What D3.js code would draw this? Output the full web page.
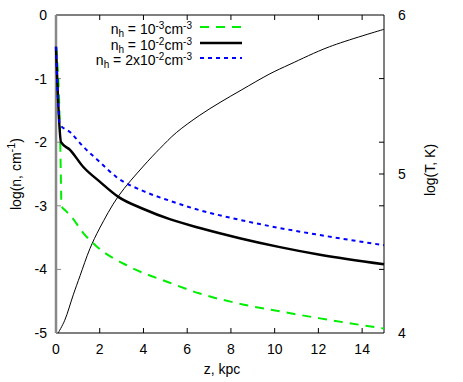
<!DOCTYPE html>
<html>
<head>
<meta charset="utf-8">
<script src="https://cdn.jsdelivr.net/npm/d3@7"></script>
<style>
	body { margin: 0; background: #fff; }
	text { font-family: "Liberation Sans", Arial, sans-serif; font-size: 14px; fill: #000; }
</style>
</head>
<body>
<div id="chart"></div>
<script>
// density curves, log(n, cm^-1) vs z (kpc)
const zLow = [0, 0.18, 0.22, 0.25, 0.45, 0.7, 1.25, 1.86, 3.38, 5.2, 6.58, 8.4, 10.24, 12.07, 15];
const nLow = [-0.5, -1.8, -2.5, -3.0, -3.08, -3.17, -3.43, -3.64, -3.96, -4.21, -4.38, -4.54, -4.66, -4.77, -4.93];

const zMid = [0, 0.23, 0.64, 1.25, 2.0, 2.85, 4.0, 5.2, 6.58, 8.4, 10.24, 12.07, 15];
const nMid = [-0.5, -2.0, -2.12, -2.39, -2.62, -2.86, -3.05, -3.21, -3.35, -3.51, -3.65, -3.77, -3.92];

const zHigh = [0, 0.18, 0.64, 1.25, 2.0, 2.77, 4.0, 5.2, 6.58, 8.4, 10.24, 12.07, 15];
const nHigh = [-0.5, -1.72, -1.84, -2.07, -2.31, -2.55, -2.77, -2.92, -3.07, -3.22, -3.35, -3.46, -3.62];

// temperature, log(T, K), right axis
const zT = [0.1, 0.4, 0.79, 1.1, 1.55, 2.0, 2.85, 4.0, 4.75, 5.5, 6.58, 7.5, 8.5, 9.78, 10.7, 12.5, 15];
const logT = [4.0, 4.08, 4.24, 4.36, 4.53, 4.66, 4.86, 5.05, 5.16, 5.26, 5.37, 5.45, 5.53, 5.63, 5.69, 5.8, 5.91];

const xTicks = [0, 2, 4, 6, 8, 10, 12, 14];
const yTicks = [0, -1, -2, -3, -4, -5];
const y2Ticks = [4, 5, 6];

const width = 463, height = 382;
const pLeft = 56, pRight = 384, pTop = 15, pBottom = 333;

const svg = d3.select('#chart')
	.append('svg')
	.attr('width', width)
	.attr('height', height);

const x = d3.scaleLinear().domain([0, 15]).range([pLeft, pRight]);
const y = d3.scaleLinear().domain([-5, 0]).range([pBottom, pTop]);
const y2 = d3.scaleLinear().domain([4, 6]).range([pBottom, pTop]);

const tl = 5;

// frame (left side drawn grey below)
svg.append('path')
	.attr('d', `M${pLeft},${pTop}H${pRight}V${pBottom}H${pLeft}`)
	.attr('fill', 'none')
	.attr('stroke', '#000')
	.attr('stroke-width', 1);

// x ticks bottom + top
xTicks.forEach((t) => {
	if (t === 0) return;
	svg.append('line')
		.attr('x1', x(t)).attr('x2', x(t))
		.attr('y1', pBottom).attr('y2', pBottom - tl)
		.attr('stroke', '#000');
	svg.append('line')
		.attr('x1', x(t)).attr('x2', x(t))
		.attr('y1', pTop).attr('y2', pTop + tl)
		.attr('stroke', '#000');
});
xTicks.forEach((t) => {
	svg.append('text')
		.attr('x', x(t))
		.attr('y', pBottom + 21)
		.attr('text-anchor', 'middle')
		.text(t);
});

// y ticks left + mirrored right
yTicks.forEach((t) => {
	if (t !== 0 && t !== -5) {
		svg.append('line')
			.attr('x1', pLeft).attr('x2', pLeft + tl)
			.attr('y1', y(t)).attr('y2', y(t))
			.attr('stroke', '#888');
		svg.append('line')
			.attr('x1', pRight).attr('x2', pRight - tl)
			.attr('y1', y(t)).attr('y2', y(t))
			.attr('stroke', '#000');
	}
	svg.append('text')
		.attr('x', pLeft - 9)
		.attr('y', y(t))
		.attr('dy', '0.35em')
		.attr('text-anchor', 'end')
		.text(t);
});

y2Ticks.forEach((t) => {
	if (t === 5) {
		svg.append('line')
			.attr('x1', pRight).attr('x2', pRight - tl)
			.attr('y1', y2(t)).attr('y2', y2(t))
			.attr('stroke', '#000');
	}
	svg.append('text')
		.attr('x', pRight + 14)
		.attr('y', y2(t))
		.attr('dy', '0.35em')
		.text(t);
});

// grey left axis line
svg.append('line')
	.attr('x1', pLeft).attr('x2', pLeft)
	.attr('y1', pTop).attr('y2', pBottom)
	.attr('stroke', '#888')
	.attr('stroke-width', 2.5);

// axis titles
svg.append('text')
	.attr('x', (pLeft + pRight) / 2 + 2)
	.attr('y', 374)
	.attr('text-anchor', 'middle')
	.text('z, kpc');

const yl = svg.append('text')
	.attr('transform', `translate(21,${(pTop + pBottom) / 2}) rotate(-90)`)
	.attr('text-anchor', 'middle');
yl.append('tspan').text('log(n, cm');
yl.append('tspan').attr('dy', -6).attr('font-size', 11).text('-1');
yl.append('tspan').attr('dy', 6).text(')');

svg.append('text')
	.attr('transform', `translate(435,${(pTop + pBottom) / 2 - 4}) rotate(-90)`)
	.attr('text-anchor', 'middle')
	.text('log(T, K)');

const line = d3.line()
	.x((d) => x(d[0]))
	.y((d) => y(d[1]))
	.curve(d3.curveMonotoneX);

const lineT = d3.line()
	.x((d) => x(d[0]))
	.y((d) => y2(d[1]))
	.curve(d3.curveCatmullRom.alpha(0.5));

const series = [
	{ z: zLow, n: nLow, color: '#00ee00', width: 2, dash: '9,7', label: ['', '-3'] },
	{ z: zMid, n: nMid, color: '#000', width: 2.5, dash: null, label: ['', '-2'] },
	{ z: zHigh, n: nHigh, color: '#0000ff', width: 2, dash: '4,4', label: ['2x', '-2'] }
];

const plot = svg.append('g');

plot.append('path')
	.datum(d3.zip(zT, logT))
	.attr('d', lineT)
	.attr('fill', 'none')
	.attr('stroke', '#000')
	.attr('stroke-width', 1);

series.forEach((s) => {
	plot.append('path')
		.datum(d3.zip(s.z, s.n))
		.attr('d', line)
		.attr('fill', 'none')
		.attr('stroke', s.color)
		.attr('stroke-width', s.width)
		.attr('stroke-dasharray', s.dash);
});

// legend
const legendY = [27, 43, 58];
series.forEach((s, i) => {
	const ly = legendY[i];
	svg.append('line')
		.attr('x1', 200).attr('x2', 242)
		.attr('y1', ly).attr('y2', ly)
		.attr('stroke', s.color)
		.attr('stroke-width', s.width)
		.attr('stroke-dasharray', s.dash);
	const t = svg.append('text')
		.attr('x', 192)
		.attr('y', ly + 7)
		.attr('text-anchor', 'end');
	t.append('tspan').text('n');
	t.append('tspan').attr('dy', 3).attr('font-size', 10).text('h');
	t.append('tspan').attr('dy', -3).text(' = ' + s.label[0] + '10');
	t.append('tspan').attr('dy', -5).attr('font-size', 10).text(s.label[1]);
	t.append('tspan').attr('dy', 5).text('cm');
	t.append('tspan').attr('dy', -5).attr('font-size', 10).text('-3');
});
</script>
</body>
</html>
